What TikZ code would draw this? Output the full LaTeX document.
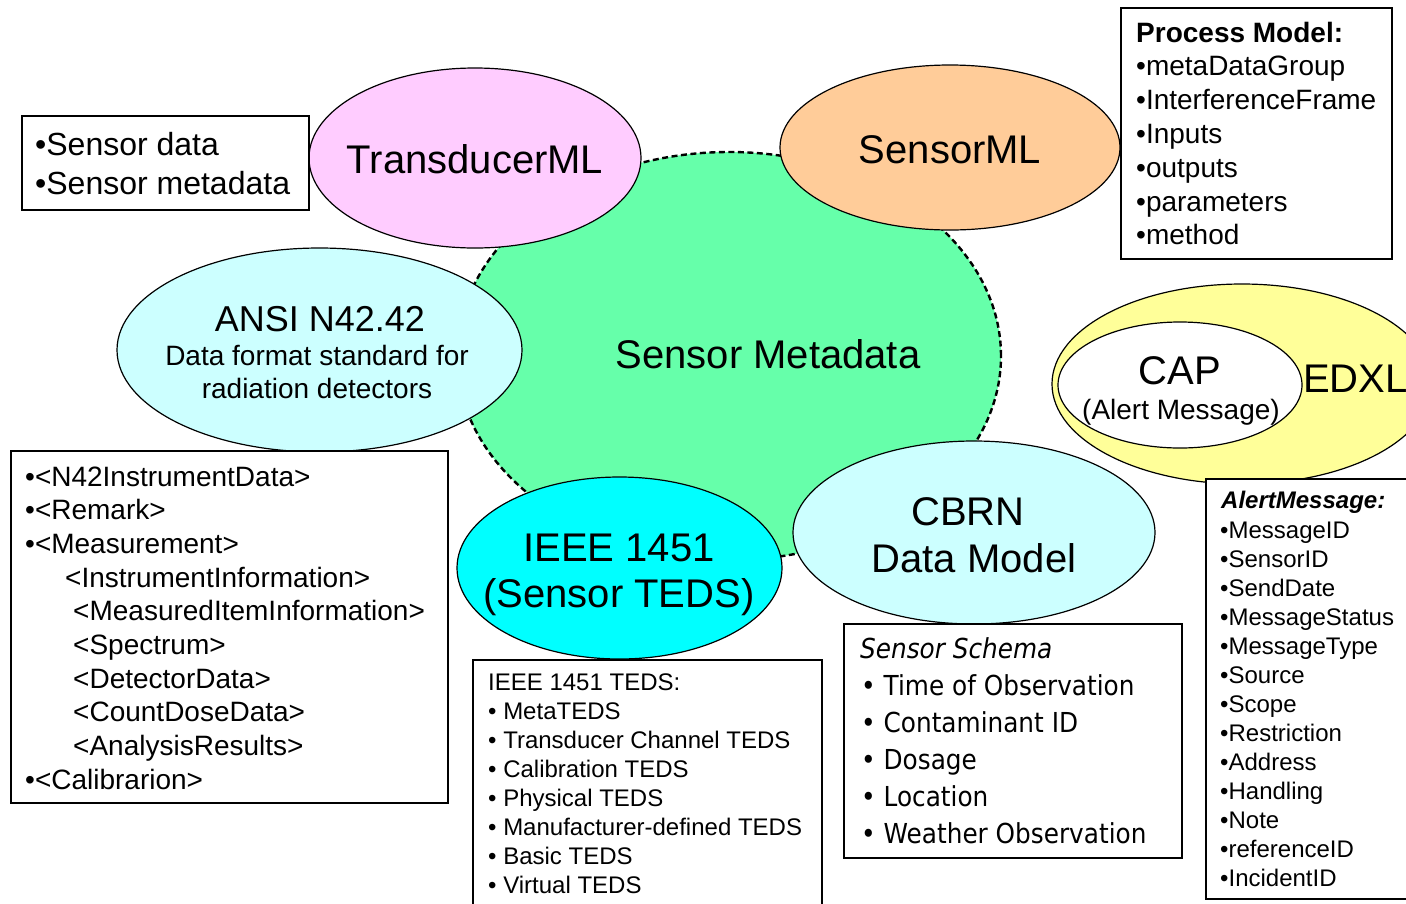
\documentclass[tikz,border=0pt]{standalone}
\usepackage{fontspec}
\setmainfont{Liberation Sans}
\newfontfamily\schemafont[FakeStretch=0.9]{DejaVu Sans}
\usetikzlibrary{shapes.geometric}

\definecolor{metagreen}{HTML}{66FFAA}
\definecolor{tmlpink}{HTML}{FFCCFF}
\definecolor{smlorange}{HTML}{FFCC99}
\definecolor{palecyan}{HTML}{CCFFFF}
\definecolor{brightcyan}{HTML}{00FFFF}
\definecolor{edxlyellow}{HTML}{FFFF99}

\newcommand{\bigtxt}{\fontsize{40}{46}\selectfont}
\newcommand{\midtxt}{\fontsize{28}{33.6}\selectfont}
\newcommand{\smalltxt}{\fontsize{24}{29}\selectfont}

\begin{document}
\begin{tikzpicture}[x=1pt,y=-1pt,
  blob/.style={ellipse, draw=black, line width=1.2pt, inner sep=0pt, outer sep=0pt},
  listbox/.style={draw=black, line width=1.5pt, fill=white, anchor=north west, inner sep=0pt},
  lbl/.style={anchor=base, inner sep=0pt},
  item/.style={anchor=base west, inner sep=0pt}]

\useasboundingbox (0,0) rectangle (1406,903);
\fill[white] (0,0) rectangle (1406,903);

% central topic
\node[ellipse, fill=metagreen, draw=black, line width=2.4pt, dash pattern=on 6pt off 3.5pt,
      minimum width=544pt, minimum height=408pt, inner sep=0pt] (meta) at (729,356) {};
\node[lbl, font=\bigtxt] (metalbl) at (768,368) {Sensor Metadata};

% surrounding standards
\node[blob, fill=tmlpink, minimum width=332pt, minimum height=180pt] (tml) at (475,158) {};
\node[lbl, font=\bigtxt] (tmllbl) at (475,173) {TransducerML};

\node[blob, fill=smlorange, minimum width=340pt, minimum height=165pt] (sml) at (950,147.5) {};
\node[lbl, font=\bigtxt] (smllbl) at (950,163) {SensorML};

\node[blob, fill=palecyan, minimum width=405pt, minimum height=204pt] (ansi) at (319.5,350) {};
\node[lbl, font=\fontsize{36}{42}\selectfont] (ansi1) at (320,331) {ANSI N42.42};
\node[lbl, font=\midtxt] (ansi2) at (317,365) {Data format standard for};
\node[lbl, font=\midtxt] (ansi3) at (317,398) {radiation detectors};

\node[blob, fill=brightcyan, minimum width=325pt, minimum height=182pt] (ieee) at (619.5,568) {};
\node[lbl, font=\bigtxt] (ieee1) at (619,561) {IEEE 1451};
\node[lbl, font=\bigtxt] (ieee2) at (619,607) {(Sensor TEDS)};

\node[blob, fill=palecyan, minimum width=362pt, minimum height=183pt] (cbrn) at (974,532.5) {};
\node[lbl, font=\bigtxt] (cbrn1) at (968,525) {CBRN};
\node[lbl, font=\bigtxt] (cbrn2) at (974,572) {Data Model};

\node[blob, fill=edxlyellow, minimum width=380pt, minimum height=200pt] (edxl) at (1242,384) {};
\node[blob, fill=white, minimum width=244pt, minimum height=126pt] (cap) at (1180,385) {};
\node[lbl, font=\bigtxt] (cap1) at (1180,384) {CAP};
\node[lbl, font=\midtxt] (cap2) at (1181,419) {(Alert Message)};
\node[item, font=\bigtxt] (edxllbl) at (1303,392) {EDXL};

% list boxes
\node[listbox, minimum width=287pt, minimum height=94pt] (sdbox) at (21,115) {};
\node[item, font=\fontsize{32}{38}\selectfont] (sd1) at (35,155) {•Sensor data};
\node[item, font=\fontsize{32}{38}\selectfont] (sd2) at (35,194) {•Sensor metadata};

\node[listbox, minimum width=271pt, minimum height=251pt] (pmbox) at (1120,7) {};
\node[item, font=\midtxt\bfseries] (pm0) at (1136,42) {Process Model:};
\foreach \t [count=\i] in {•metaDataGroup, •InterferenceFrame, •Inputs, •outputs, •parameters, •method}
  \node[item, font=\midtxt] (pm\i) at (1136,{42+33.8*\i}) {\t};

\node[listbox, minimum width=437pt, minimum height=352pt] (n42box) at (10,450) {};
\foreach \x/\t [count=\i from 0] in {25/•<N42InstrumentData>, 25/•<Remark>, 25/•<Measurement>,
    65/<InstrumentInformation>, 73/<MeasuredItemInformation>, 73/<Spectrum>,
    73/<DetectorData>, 73/<CountDoseData>, 73/<AnalysisResults>, 25/•<Calibrarion>}
  \node[item, font=\midtxt] (n42\i) at (\x,{486+33.67*\i}) {\t};

\node[listbox, minimum width=349pt, minimum height=260pt] (tedsbox) at (472,659) {};
\node[item, font=\smalltxt] (teds0) at (488,690) {IEEE 1451 TEDS:};
\foreach \t [count=\i] in {• MetaTEDS, • Transducer Channel TEDS, • Calibration TEDS, • Physical TEDS,
    • Manufacturer-defined TEDS, • Basic TEDS, • Virtual TEDS}
  \node[item, font=\smalltxt] (teds\i) at (488,{690+29*\i}) {\t};

\node[listbox, minimum width=338pt, minimum height=234pt] (schemabox) at (843,623) {};
\node[item, font=\schemafont\fontsize{27.5}{33}\selectfont\itshape] (sch0) at (860,658) {Sensor Schema};
\foreach \t [count=\i] in {• Time of Observation, • Contaminant ID, • Dosage, • Location, • Weather Observation}
  \node[item, font=\schemafont\fontsize{27.5}{33}\selectfont] (sch\i) at (861,{658+37*\i}) {\t};

\node[listbox, minimum width=215pt, minimum height=420pt] (alertbox) at (1205,478) {};
\node[item, font=\smalltxt\bfseries\itshape] (al0) at (1221,508) {AlertMessage:};
\foreach \t [count=\i] in {•MessageID, •SensorID, •SendDate, •MessageStatus, •MessageType, •Source,
    •Scope, •Restriction, •Address, •Handling, •Note, •referenceID, •IncidentID}
  \node[item, font=\smalltxt] (al\i) at (1220,{509+29*\i}) {\t};

\end{tikzpicture}
\end{document}
